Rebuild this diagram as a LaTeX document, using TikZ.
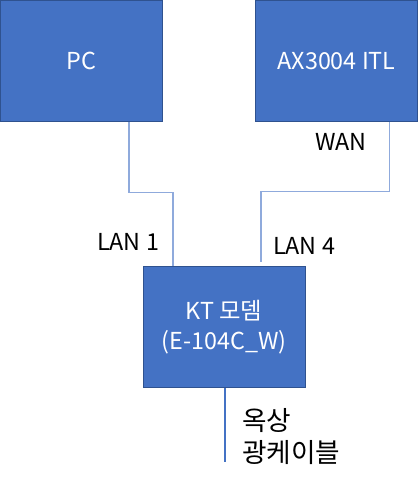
\documentclass[tikz,border=0pt]{standalone}
\usepackage{fontspec}
\setmainfont{Noto Sans CJK KR}
\definecolor{boxblue}{HTML}{4472C4}
\definecolor{boxedge}{HTML}{2F528F}
\definecolor{lanblue}{HTML}{8FAADC}
\begin{document}
\begin{tikzpicture}[x=0.75pt,y=-0.75pt,
    device/.style ={rectangle, draw=boxedge, fill=boxblue, text=white, minimum width=121.5pt, minimum height=90.75pt, align=center, font=\fontsize{17.5}{22}\selectfont},
    port/.style ={font=\fontsize{17.5}{22}\selectfont, inner sep=0pt},
    cable/.style ={draw=lanblue, line width=0.8pt}]
   \useasboundingbox (0,0) rectangle (418,482);
   \node[device] (pc)  at (81.5,61)  {PC};
   \node[device] (ax)  at (336.5,61)  {AX3004 ITL};
   \node[device] (modem)  at (224,327)  {KT 모뎀\\(E-104C\_W)};
   \coordinate (roof) at (225,462);
   \node[port] (wan)  at (341,142)  {WAN};
   \node[port] (lan1)  at (128,242)  {LAN 1};
   \node[port] (lan4)  at (304,246)  {LAN 4};
   \node[port, anchor=west, align=left, font=\fontsize{20}{24}\selectfont] (fiber)  at (242,437)  {옥상\\광케이블};
   \draw[cable] ([xshift=35.6pt]pc.south) -- ++(0,71) -| ([xshift=-38.25pt]modem.north);
   \draw[cable] ([xshift=39.4pt]ax.south) -- ++(0,70) -| ([xshift=27.75pt,yshift=3pt]modem.north);
   \draw[boxblue, line width=0.8pt] ([xshift=0.75pt]modem.south) -- (roof);
\end{tikzpicture}
\end{document}
